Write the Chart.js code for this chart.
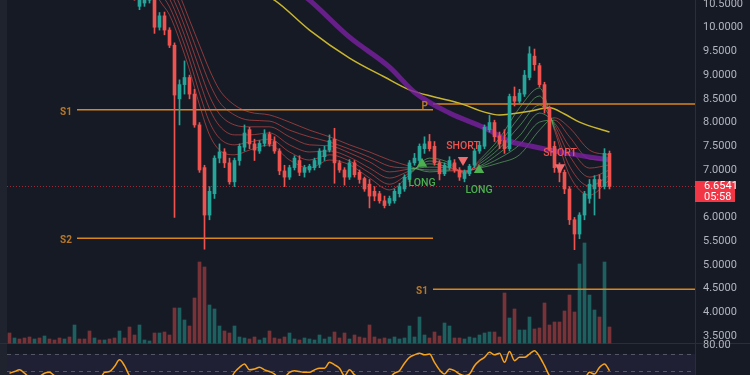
<!DOCTYPE html>
<html>
<head>
<meta charset="utf-8">
<script src="https://cdn.jsdelivr.net/npm/chart.js@4.4.1/dist/chart.umd.min.js"></script>
<style>
  html, body { margin: 0; padding: 0; background: #161a25; overflow: hidden; }
  canvas { display: block; }
</style>
</head>
<body>
<canvas id="chart" width="750" height="375"></canvas>
<script>
// candles, one per bar, oldest first
const opens = [12.30,12.20,12.28,12.15,12.00,11.92,11.98,11.80,11.88,11.70,11.62,11.50,11.55,11.40,11.52,11.35,11.25,11.10,11.18,11.05,11.08,10.98,10.90,11.00,10.86,10.75,
  10.45,10.52,10.58,10.62,10.01,10.25,9.95,9.63,8.50,8.80,8.95,8.60,7.95,7.05,6.05,6.50,7.25,7.38,7.15,6.75,7.20,7.48,7.85,7.55,7.40,7.56,7.75,7.60,7.40,6.98,6.85,7.05,7.20,6.95,
  7.00,7.05,7.12,7.28,7.42,7.65,7.15,7.00,6.85,7.15,6.95,6.82,6.70,6.55,6.50,6.35,6.30,6.35,6.50,6.60,6.80,7.15,7.20,7.45,7.60,7.50,7.15,6.92,7.05,7.15,
  7.00,6.82,6.92,7.10,7.40,7.50,7.85,8.00,7.72,7.62,7.45,8.55,8.45,8.60,8.95,9.40,9.20,8.80,8.30,7.50,7.05,6.95,6.60,5.95,5.65,6.05,6.40,6.60,6.80,6.65,7.35];
const highs = [12.45,12.35,12.40,12.22,12.10,12.05,12.02,11.95,11.92,11.78,11.70,11.62,11.60,11.58,11.55,11.42,11.30,11.22,11.20,11.12,11.12,11.02,11.05,11.04,10.92,10.80,
  10.66,10.64,10.72,10.70,10.32,10.33,10.00,9.68,8.90,9.30,9.00,8.70,8.00,7.10,6.65,7.30,7.55,7.45,7.25,7.25,7.55,7.95,7.90,7.65,7.62,7.85,7.80,7.70,7.45,7.10,7.10,7.30,7.30,7.10,
  7.12,7.25,7.45,7.50,7.74,7.88,7.20,7.05,7.22,7.20,7.00,6.85,6.80,6.65,6.55,6.45,6.45,6.60,6.72,6.90,7.20,7.35,7.55,7.70,7.75,7.60,7.20,7.15,7.28,7.22,
  7.05,7.00,7.12,7.45,7.60,7.95,8.15,8.05,7.80,7.85,8.60,8.75,8.70,9.10,9.60,9.55,9.25,8.85,8.35,7.60,7.15,7.00,6.65,6.00,6.10,6.55,6.80,6.88,6.90,7.45,7.40];
const lows = [12.15,12.05,12.10,11.95,11.85,11.80,11.75,11.70,11.65,11.55,11.45,11.42,11.35,11.30,11.30,11.20,11.05,11.02,11.00,10.95,10.92,10.85,10.85,10.82,10.70,10.58,
  10.38,10.45,10.52,9.88,9.95,9.85,9.58,6.00,7.95,8.60,8.50,7.90,6.95,5.33,5.95,6.40,7.15,7.05,6.70,6.65,7.10,7.40,7.45,7.20,7.35,7.50,7.50,7.35,6.90,6.65,6.80,7.00,6.88,6.85,
  6.95,7.00,7.05,7.20,7.38,6.72,6.95,6.68,6.80,6.85,6.72,6.55,6.20,6.35,6.30,6.20,6.25,6.30,6.43,6.55,6.75,7.10,7.15,7.35,7.40,7.10,6.79,6.88,7.00,6.95,
  6.78,6.75,6.88,7.05,7.35,7.45,7.80,7.60,7.45,7.35,7.40,8.35,8.40,8.55,8.90,9.10,8.75,8.20,7.40,6.95,6.75,6.50,5.85,5.32,5.55,5.95,6.30,6.05,6.40,6.60,6.60];
const closes = [12.20,12.28,12.15,12.00,11.92,11.98,11.80,11.88,11.70,11.62,11.50,11.55,11.40,11.52,11.35,11.25,11.10,11.18,11.05,11.08,10.98,10.90,11.00,10.86,10.75,10.62,
  10.58,10.58,10.62,10.01,10.25,9.95,9.63,8.58,8.80,8.95,8.60,7.95,7.00,6.05,6.55,7.25,7.38,7.15,6.75,7.20,7.50,7.78,7.55,7.42,7.56,7.75,7.55,7.40,6.98,6.85,7.05,7.25,6.95,7.05,
  7.08,7.20,7.40,7.42,7.62,7.15,7.00,6.85,7.15,6.90,6.80,6.60,6.45,6.45,6.35,6.25,6.40,6.55,6.65,6.85,7.15,7.25,7.50,7.55,7.45,7.15,6.92,7.10,7.20,7.00,
  6.85,6.95,7.08,7.40,7.52,7.90,8.00,7.70,7.55,7.45,8.55,8.45,8.62,9.00,9.45,9.22,8.80,8.30,7.45,7.05,6.95,6.60,5.95,5.65,6.05,6.50,6.70,6.80,6.65,7.35,6.6541];
const volumes = [10,5,4,5,6,4,5,7,4,3,5,4,6,18,4,4,12,5,3,3,4,5,12,5,16,8,
  18,3,2,10,10,11,8,35,35,23,17,45,81,76,38,34,17,12,10,17,6,5,4,6,3,5,12,5,4,6,10,4,3,5,
  4,3,8,4,6,11,5,10,4,8,6,5,18,6,4,5,4,6,4,5,17,6,26,8,5,11,7,20,17,5,
  5,4,6,5,8,10,11,11,6,50,25,34,13,13,26,14,15,40,18,21,21,32,48,31,79,100,48,33,26,81,16];
const rsiValues = [47,49,51,47,42,40,43,47,48,44,41,40,42,44,40,38,41,42,40,48,49,55,63,56,44,38,
  36,37,38,30,33,29,26,20,28,31,27,22,18,15,24,33,38,35,38,48,54,58,51,52,54,51,49,46,40,42,48,50,49,48,
  48,51,53,53,60,57,53,44,51,45,42,40,38,36,38,40,42,47,50,59,66,69,71,69,70,60,51,46,52,50,
  46,44,46,56,62,66,72,69,71,60,73,62,66,66,70,74,67,56,44,40,36,33,30,28,35,40,48,46,54,58,50];

// moving average ribbon, sampled at these bar positions
const ribbonIdx = [28,30,32,34,36,38,40,42,45,48,52,56,60,64,68,72,76,80,84,88,91,94,98,102,106,109,112,116,120];
const ribbon1 = [11.01,10.58,10.27,9.74,9.11,8.37,7.74,7.42,7.32,7.42,7.53,7.21,7.04,7.21,7.11,6.83,6.58,6.90,7.25,7.15,6.92,7.21,7.67,8.31,8.73,7.84,6.89,6.47,6.79];
const ribbon2 = [11.17,10.77,10.44,9.93,9.32,8.62,8.01,7.67,7.53,7.59,7.65,7.38,7.21,7.32,7.19,6.94,6.70,6.94,7.19,7.11,6.94,7.17,7.57,8.12,8.56,7.89,7.08,6.66,6.89];
const ribbon3 = [11.34,10.96,10.61,10.12,9.53,8.88,8.29,7.93,7.74,7.74,7.78,7.53,7.38,7.40,7.27,7.04,6.83,6.98,7.13,7.06,6.96,7.13,7.46,7.93,8.37,7.95,7.30,6.85,7.00];
const ribbon4 = [11.51,11.15,10.77,10.31,9.74,9.13,8.56,8.18,7.95,7.91,7.91,7.70,7.53,7.51,7.36,7.17,6.96,7.02,7.06,7.04,6.96,7.08,7.36,7.72,8.20,7.99,7.49,7.04,7.11];
const ribbon5 = [11.68,11.34,10.94,10.50,9.95,9.38,8.83,8.43,8.16,8.05,8.03,7.84,7.70,7.59,7.44,7.27,7.08,7.04,7.00,7.00,6.98,7.06,7.25,7.53,8.01,8.05,7.70,7.23,7.21];
const ribbon6 = [11.85,11.53,11.11,10.69,10.16,9.63,9.11,8.69,8.37,8.22,8.16,8.01,7.84,7.70,7.53,7.38,7.21,7.08,6.96,6.98,6.98,7.04,7.15,7.32,7.84,8.10,7.89,7.42,7.32];
const greenSpans = [[80, 89], [93, 107.5]];

const yellowIdx = [49,53,60,68,75,80,85,90,95,98,104,108,111,114,120];
const yellowVals = [10.79,10.58,9.95,9.36,8.96,8.69,8.54,8.41,8.22,8.16,8.24,8.31,8.18,8.01,7.80];
const purpleIdx = [56,60,68,76,81,88,95,100,104,111,120];
const purpleVals = [10.90,10.58,9.80,9.17,8.64,8.20,7.89,7.61,7.51,7.36,7.21];

const pivotNames = ['S1', 'S2', 'P', 'S1'];
const pivotLevels = [8.27, 5.56, 8.39, 4.485];
const pivotFrom = [13.5, 13.5, 84.7, 84.7];
const pivotTo = [84.7, 84.7, 137.1, 137.1];

const longIdx = [82.5, 93.9];
const longPrice = [7.13, 7.00];
const shortIdx = [90.7, 110.1];
const shortPrice = [7.21, 7.06];

const priceTicks = [3.5, 4, 4.5, 5, 5.5, 6, 7, 7.5, 8, 8.5, 9, 9.5, 10, 10.5];
const rsiTick = 80;
const rsiUpper = 70;
const rsiMid = 50;
const rsiLower = 30;
const countdown = "05:58";

const upColor = "#26a69a";
const downColor = "#ef5350";
const axisText = "#b2b5be";

let idx = closes.map((c, i) => i);
let isUp = idx.map((i) => closes[i] >= opens[i]);
let candleColors = isUp.map((u) => (u ? upColor : downColor));
let volColors = isUp.map((u) => (u ? "rgba(38,166,154,0.5)" : "rgba(239,83,80,0.45)"));

function points(xs, ys) {
  return xs.map((x, k) => ({ x: x, y: ys[k] }));
}

function ribbonColor(x) {
  for (const s of greenSpans) {
    if (x >= s[0] && x <= s[1]) return "rgba(102,187,106,0.6)";
  }
  return "rgba(239,83,80,0.55)";
}

function lineSet(data, color, width, order, axis) {
  return {
    type: "line",
    data: data,
    borderColor: color,
    borderWidth: width,
    pointRadius: 0,
    cubicInterpolationMode: "monotone",
    yAxisID: axis || "y",
    order: order,
  };
}

const datasets = [];

datasets.push({
  type: "bar",
  data: idx.map((i) => ({ x: i, y: [lows[i], highs[i]] })),
  backgroundColor: candleColors,
  barThickness: 1,
  grouped: false,
  order: 2,
});
datasets.push({
  type: "bar",
  data: idx.map((i) => ({ x: i, y: [Math.min(opens[i], closes[i]), Math.max(opens[i], closes[i])] })),
  backgroundColor: candleColors,
  barThickness: 3,
  minBarLength: 1,
  grouped: false,
  order: 1,
});
datasets.push({
  type: "bar",
  data: idx.map((i) => ({ x: i, y: volumes[i] })),
  backgroundColor: volColors,
  barThickness: 3,
  grouped: false,
  yAxisID: "yVol",
  order: 30,
});
datasets.push(lineSet(points(idx, rsiValues), "#f7a21b", 1.5, 25, "yRsi"));

[ribbon1, ribbon2, ribbon3, ribbon4, ribbon5, ribbon6].forEach((r, k) => {
  let ds = lineSet(points(ribbonIdx, r), "rgba(239,83,80,0.55)", 1, 5 + k);
  ds.segment = { borderColor: (c) => ribbonColor((c.p0.parsed.x + c.p1.parsed.x) / 2) };
  datasets.push(ds);
});

datasets.push(lineSet(points(yellowIdx, yellowVals), "#c9b62e", 1.5, 4));
datasets.push(lineSet(points(purpleIdx, purpleVals), "rgba(123,31,162,0.8)", 5, 3));

pivotLevels.forEach((p, k) => {
  datasets.push(lineSet([{ x: pivotFrom[k], y: p }, { x: pivotTo[k], y: p }], "#d9861c", 1.5, 20));
});

datasets.push({
  type: "line",
  showLine: false,
  data: points(longIdx, longPrice),
  pointStyle: "triangle",
  pointRadius: 6,
  pointBackgroundColor: "#4caf50",
  pointBorderWidth: 0,
  order: 0,
});
datasets.push({
  type: "line",
  showLine: false,
  data: points(shortIdx, shortPrice),
  pointStyle: "triangle",
  pointRotation: 180,
  pointRadius: 6,
  pointBackgroundColor: "#f06b6e",
  pointBorderWidth: 0,
  order: 0,
});

const decor = {
  id: "decor",
  beforeDraw(chart) {
    const { ctx, chartArea, scales } = chart;
    const r = scales.yRsi;
    const left = chartArea.left;
    const right = chartArea.right;
    ctx.save();
    ctx.fillStyle = "#161a25";
    ctx.fillRect(0, 0, chart.width, chart.height);
    ctx.fillStyle = "#1f232e";
    ctx.fillRect(0, 0, left, chart.height);

    let yUp = r.getPixelForValue(rsiUpper);
    let yLo = r.getPixelForValue(rsiLower);
    ctx.fillStyle = "rgba(126,87,194,0.1)";
    ctx.fillRect(left, yUp, right - left, yLo - yUp);

    ctx.fillStyle = "#2a2e39";
    ctx.fillRect(0, Math.round(scales.yVol.getPixelForValue(0)), chart.width, 1);
    ctx.fillRect(Math.round(right), 0, 1, chart.height);

    ctx.strokeStyle = "rgba(120,123,134,0.6)";
    ctx.lineWidth = 1;
    ctx.setLineDash([4, 4]);
    [rsiUpper, rsiMid].forEach((v) => {
      let y = Math.round(r.getPixelForValue(v)) + 0.5;
      ctx.beginPath();
      ctx.moveTo(left, y);
      ctx.lineTo(right, y);
      ctx.stroke();
    });

    let yLast = Math.round(scales.y.getPixelForValue(closes[closes.length - 1])) + 0.5;
    ctx.strokeStyle = "rgba(242,54,69,0.6)";
    ctx.setLineDash([1, 2]);
    ctx.beginPath();
    ctx.moveTo(left, yLast);
    ctx.lineTo(right, yLast);
    ctx.stroke();
    ctx.restore();
  },
  afterDraw(chart) {
    const { ctx, chartArea, scales } = chart;
    const x = scales.x;
    const y = scales.y;
    ctx.save();
    ctx.textBaseline = "middle";

    ctx.font = "bold 10px Roboto";
    ctx.fillStyle = "#b5772a";
    ctx.textAlign = "right";
    pivotNames.forEach((name, k) => {
      ctx.fillText(name, x.getPixelForValue(pivotFrom[k]) - 5, y.getPixelForValue(pivotLevels[k]) + 2.5);
    });

    ctx.textAlign = "center";
    ctx.font = "500 10.5px Roboto";
    ctx.fillStyle = "#4caf50";
    longIdx.forEach((v, k) => {
      ctx.fillText("LONG", x.getPixelForValue(v), y.getPixelForValue(longPrice[k]) + 20);
    });
    ctx.fillStyle = "#ef5350";
    shortIdx.forEach((v, k) => {
      ctx.fillText("SHORT", x.getPixelForValue(v), y.getPixelForValue(shortPrice[k]) - 14);
    });

    let last = closes[closes.length - 1];
    let yl = y.getPixelForValue(last);
    ctx.fillStyle = "#f23645";
    ctx.fillRect(chartArea.right, Math.round(yl) - 5, 40, 21);
    ctx.fillStyle = "#ffffff";
    ctx.textAlign = "left";
    ctx.font = "11px Roboto";
    ctx.fillText(last.toFixed(4), chartArea.right + 9, yl);
    ctx.fillText(countdown, chartArea.right + 9, yl + 10.5);

    ctx.fillStyle = axisText;
    ctx.fillText(rsiTick.toFixed(2), chartArea.right + 8, scales.yRsi.getPixelForValue(rsiTick));
    ctx.restore();
  },
};

let chart = new Chart(document.querySelector("#chart"), {
  type: "bar",
  data: { datasets: datasets },
  options: {
    responsive: false,
    animation: false,
    events: [],
    layout: { autoPadding: false, padding: { left: 7, right: 0, top: 0, bottom: 0 } },
    plugins: { legend: { display: false }, tooltip: { enabled: false } },
    scales: {
      x: { type: "linear", axis: "x", min: -0.5, max: 137.1, offset: false, display: false },
      y: {
        axis: "y",
        position: "right",
        min: 2.6775,
        max: 10.584,
        grid: { display: false, drawTicks: false },
        border: { display: false },
        afterBuildTicks: (s) => {
          s.ticks = priceTicks.map((v) => ({ value: v }));
        },
        afterFit: (s) => {
          s.width = 55;
          s.paddingTop = 0;
          s.paddingBottom = 0;
        },
        ticks: {
          autoSkip: false,
          padding: 8,
          color: axisText,
          font: { family: "Roboto", size: 11 },
          callback: (v) => Number(v).toFixed(4),
        },
      },
      yVol: { type: "linear", axis: "y", position: "left", display: false, min: -32, max: 343 },
      yRsi: { type: "linear", axis: "y", position: "left", display: false, min: 44.85, max: 493.95 },
    },
  },
  plugins: [decor],
});
</script>
</body>
</html>
